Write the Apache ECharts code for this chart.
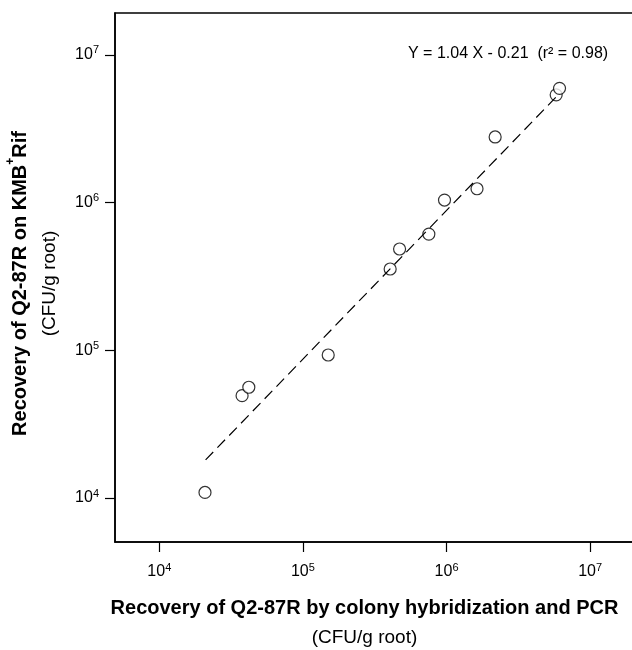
<!DOCTYPE html>
<html>
<head>
<meta charset="utf-8">
<title>Recovery of Q2-87R</title>
<script src="https://cdn.jsdelivr.net/npm/echarts@6/dist/echarts.min.js"></script>
</head>
<body style="margin:0;background:#fff">
<div id="main" style="width:632px;height:650px;"></div>
<script>
// CFU/g root: colony hybridization + PCR (x) against plate counts on KMB+Rif (y)
var pcrCounts   = [2.08e4, 3.77e4, 4.20e4, 1.50e5, 4.05e5, 4.71e5, 7.53e5, 9.68e5, 1.63e6, 2.18e6, 5.80e6, 6.12e6];
var plateCounts = [1.09e4, 4.93e4, 5.62e4, 9.29e4, 3.55e5, 4.85e5, 6.12e5, 1.04e6, 1.24e6, 2.78e6, 5.36e6, 5.93e6];

// ends of the fitted (dashed) line as drawn in the figure
var fitX = [2.10e4, 5.80e6];
var fitY = [1.81e4, 5.19e6];
var fitText = 'Y = 1.04 X - 0.21  (r\u00b2 = 0.98)';

var xRange = [4914, 2.02e7];
var yRange = [5035, 1.92e7];

var font = '"Liberation Sans", Arial, sans-serif';

var myChart = echarts.init(document.getElementById('main'));

function powLabel(v) {
    var e = Math.log10(v);
    if (Math.abs(e - Math.round(e)) > 1e-6) return '';
    return '{b|10}{s|' + Math.round(e) + '}';
}

var labelRich = {
    b: { fontSize: 16, fontFamily: font, color: '#000', lineHeight: 20 },
    s: { fontSize: 11, fontFamily: font, color: '#000', verticalAlign: 'top', lineHeight: 20, padding: [0, 0, 7, 0] }
};

var points = pcrCounts.map(function (x, i) { return [x, plateCounts[i]]; });
var fitLine = fitX.map(function (x, i) { return [x, fitY[i]]; });

var titleRich = {
    t: { fontSize: 20, fontWeight: 'bold', fontFamily: font, color: '#000', lineHeight: 30 },
    p: { fontSize: 12, fontWeight: 'bold', fontFamily: font, color: '#000', lineHeight: 30, verticalAlign: 'top', padding: [0, 0, 9, 0] },
    u: { fontSize: 19, fontFamily: font, color: '#000', lineHeight: 30 }
};

var option = {
    backgroundColor: '#fff',
    animation: false,
    grid: {
        left: 115, top: 13, right: -2, bottom: 108,
        outerBoundsMode: 'none',
        containLabel: false,
        show: true, borderColor: '#000', borderWidth: 1.5, backgroundColor: 'transparent'
    },
    xAxis: {
        type: 'log',
        logBase: 10,
        min: xRange[0],
        max: xRange[1],
        axisLine: { lineStyle: { color: '#000', width: 1.5 } },
        axisTick: { length: 10, lineStyle: { color: '#000', width: 1.2 } },
        splitLine: { show: false },
        axisLabel: { formatter: powLabel, rich: labelRich, margin: 20, showMinLabel: false, showMaxLabel: false },
        name: '{t|Recovery of Q2-87R by colony hybridization and PCR}\n{u|(CFU/g root)}',
        nameLocation: 'middle',
        nameGap: 51,
        nameTextStyle: { padding: [0, 20, 0, 0], rich: titleRich }
    },
    yAxis: {
        type: 'log',
        logBase: 10,
        min: yRange[0],
        max: yRange[1],
        axisLine: { lineStyle: { color: '#000', width: 1.5 } },
        axisTick: { length: 10, lineStyle: { color: '#000', width: 1.2 } },
        splitLine: { show: false },
        axisLabel: { formatter: powLabel, rich: labelRich, margin: 16, showMinLabel: false, showMaxLabel: false },
        name: '{t|Recovery of Q2-87R on KMB}{p|+}{t|Rif}\n{u|(CFU/g root)}',
        nameLocation: 'middle',
        nameRotate: 90,
        nameGap: 50,
        nameTextStyle: { padding: [0, 12, 0, 0], rich: titleRich }
    },
    graphic: [{
        type: 'text',
        left: 408,
        top: 46,
        style: { text: fitText, font: '16px ' + font, fill: '#000' }
    }],
    series: [
        {
            name: 'fit',
            type: 'line',
            data: fitLine,
            showSymbol: false,
            symbol: 'none',
            lineStyle: { color: '#000', width: 1.2, type: [11, 6] }
        },
        {
            name: 'samples',
            type: 'scatter',
            data: points,
            symbol: 'circle',
            symbolSize: 12,
            itemStyle: { color: '#fff', borderColor: '#000', borderWidth: 1.2 }
        }
    ]
};

myChart.setOption(option);
</script>
</body>
</html>
